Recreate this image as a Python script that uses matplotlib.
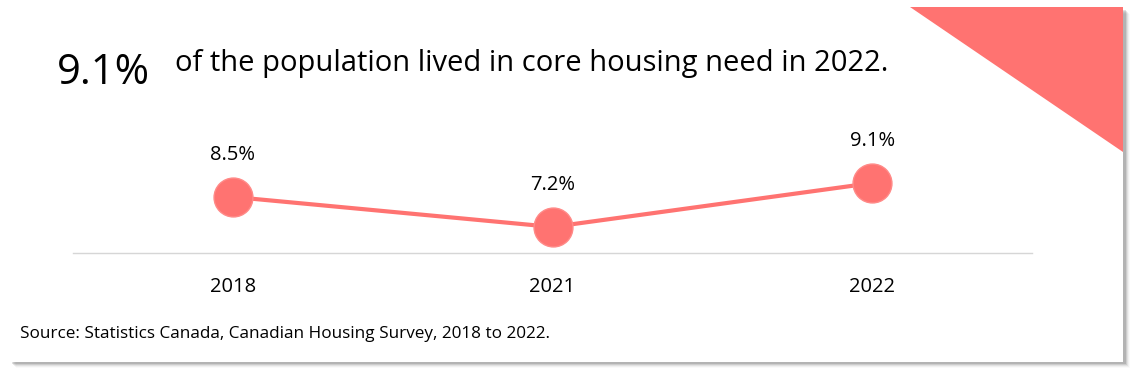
import matplotlib.pyplot as plt
from matplotlib.patches import Rectangle, Polygon

plt.rcParams['font.family'] = ['Open Sans', 'DejaVu Sans']

years = ['2018', '2021', '2022']
share = [8.5, 7.2, 9.1]
value_labels = ['8.5%', '7.2%', '9.1%']
headline = '9.1%'
subtitle = 'of the population lived in core housing need in 2022.'
source = 'Source: Statistics Canada, Canadian Housing Survey, 2018 to 2022.'

W, H = 1140, 381
red = '#ff7371'

fig = plt.figure(figsize=(W / 100, H / 100), dpi=100)
fig.patch.set_facecolor('white')


def px(x0, y0, x1, y1):
    """пиксели -> доли фигуры (y сверху)"""
    return x0 / W, 1 - y1 / H, (x1 - x0) / W, (y1 - y0) / H


# тень карточки
for i, a in enumerate([0.12, 0.09, 0.06, 0.04, 0.02]):
    x, y, w, h = px(12 + i, 10 + i, 1126 + i, 364 + i)
    fig.patches.append(Rectangle((x, y), w, h, transform=fig.transFigure,
                                 facecolor='black', alpha=a, lw=0, zorder=0))
x, y, w, h = px(10, 7, 1123, 362)
fig.patches.append(Rectangle((x, y), w, h, transform=fig.transFigure,
                             facecolor='white', lw=0, zorder=1))

# треугольник в углу
tri = [(910 / W, 1 - 7 / H), (1123 / W, 1 - 7 / H), (1123 / W, 1 - 152 / H)]
fig.patches.append(Polygon(tri, closed=True, transform=fig.transFigure,
                           facecolor=red, lw=0, zorder=2))

fig.text(57 / W, 1 - 73 / H, headline, fontsize=30, va='center', ha='left', zorder=3)
fig.text(175 / W, 1 - 64 / H, subtitle, fontsize=21, va='center', ha='left', zorder=3)
fig.text(20 / W, 1 - 334 / H, source, fontsize=12.35, va='center', ha='left', zorder=3)

ax = fig.add_axes(px(73, 130, 1032, 253))
ax.set_zorder(3)
ax.patch.set_visible(False)
xs = range(len(years))
ax.plot(xs, share, color=red, lw=3, zorder=2, solid_capstyle='round')
ax.scatter(xs, share, s=28 ** 2, color=red, edgecolor='#ff8a88', lw=1, zorder=3)
for xi, v, lab in zip(xs, share, value_labels):
    ax.annotate(lab, (xi, v), xytext=(0, 30), textcoords='offset points',
                ha='center', va='center', fontsize=14.5)

ax.set_xlim(-0.5, 2.5)
ax.set_ylim(6.07, 11.4)
ax.set_xticks(list(xs))
ax.set_xticklabels(years, fontsize=14.5)
ax.tick_params(axis='x', length=0, pad=17)
ax.set_yticks([])
for s in ['top', 'left', 'right']:
    ax.spines[s].set_visible(False)
ax.spines['bottom'].set_color('#d6d6d6')
ax.spines['bottom'].set_linewidth(1)

fig.savefig('out.png', dpi=100)
